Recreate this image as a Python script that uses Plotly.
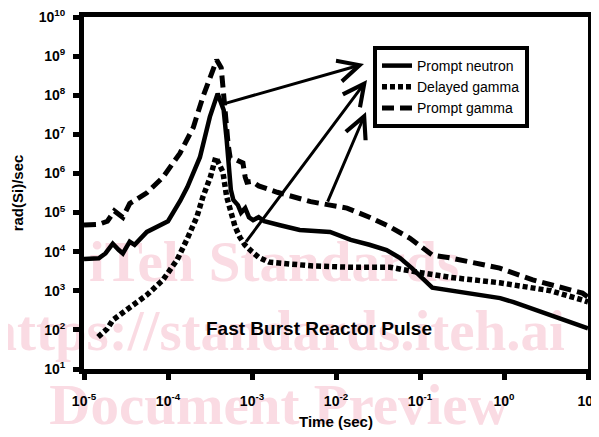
import plotly.graph_objects as go

# ---- data (time in s, dose rate in rad(Si)/s) ----
neutron_time = [1.0e-5, 1.5e-5, 1.8e-5, 2.2e-5, 2.6e-5, 2.9e-5, 3.5e-5, 4.0e-5, 5.6e-5,
                1.0e-4, 1.4e-4, 1.7e-4, 2.4e-4, 3.15e-4, 3.9e-4, 4.6e-4, 5.0e-4, 5.3e-4,
                5.6e-4, 6.0e-4, 6.8e-4, 7.4e-4, 8.3e-4, 9.2e-4, 1.03e-3, 1.2e-3, 1.4e-3,
                2.1e-3, 3.7e-3, 8.5e-3, 1.5e-2, 2.5e-2, 4.0e-2, 5.8e-2, 8.0e-2, 0.14,
                0.25, 0.5, 0.9, 1.3, 3.0, 6.0, 10.0]
neutron_rate = [6.5e3, 6.8e3, 9e3, 1.6e4, 1.1e4, 9e3, 1.8e4, 1.5e4, 3.2e4,
                6e4, 2e5, 4.5e5, 2.6e6, 2.8e7, 1.1e8, 4.2e7, 7e6, 1.2e6,
                3.8e5, 2.1e5, 1.55e5, 1e5, 1.3e5, 7.6e4, 6.4e4, 7.6e4, 6e4,
                4.8e4, 3.6e4, 3.2e4, 2e4, 1.5e4, 1.1e4, 6.9e3, 3.8e3, 1.2e3,
                1e3, 830, 650, 510, 270, 160, 110]

delayed_time = [1.47e-5, 1.88e-5, 2.2e-5, 3.5e-5, 5.6e-5, 8.7e-5, 1.28e-4, 1.67e-4,
                2.2e-4, 2.6e-4, 3.2e-4, 3.7e-4, 4.5e-4, 5.0e-4, 5.5e-4, 6.3e-4,
                7.2e-4, 8.2e-4, 1.0e-3, 1.2e-3, 1.6e-3, 2.1e-3, 3.1e-3, 5.3e-3,
                1.5e-2, 4.4e-2, 9.2e-2, 0.23, 0.89, 3.6, 8.6, 10.0]
delayed_rate = [66, 105, 178, 360, 780, 1.9e3, 6.1e3, 2e4,
                7.6e4, 2.5e5, 8.2e5, 2.6e6, 1.1e6, 2.5e5, 1.1e5, 4.3e4,
                2.3e4, 1.5e4, 1e4, 7.2e3, 5.4e3, 5.1e3, 4.6e3, 4.3e3,
                4e3, 4e3, 3e3, 2.2e3, 1.6e3, 1e3, 580, 520]

gamma_time = [1.0e-5, 1.5e-5, 1.9e-5, 2.3e-5, 2.9e-5, 3.5e-5, 5.6e-5, 8.7e-5, 1.39e-4,
              2.0e-4, 2.6e-4, 3.35e-4, 3.8e-4, 4.3e-4, 4.6e-4, 4.9e-4, 5.2e-4, 5.5e-4,
              6.6e-4, 7.8e-4, 8.3e-4, 8.7e-4, 1.0e-3, 1.2e-3, 2.0e-3, 3.0e-3, 5.0e-3,
              8.5e-3, 1.35e-2, 2.5e-2, 4.4e-2, 7.6e-2, 0.14, 0.23, 0.89, 2.2, 8.6, 10.0]
gamma_rate = [4.8e4, 5e4, 6e4, 1.1e5, 7.5e4, 1.7e5, 3.2e5, 8e5, 3.3e6,
              1.5e7, 9e7, 4.4e8, 8e8, 5e8, 1.35e8, 2.3e7, 5.4e6, 2.5e6,
              2.2e6, 1.85e6, 8e5, 6e5, 6.3e5, 4.8e5, 3.3e5, 2.5e5, 1.9e5,
              1.55e5, 1.3e5, 7.6e4, 4.3e4, 2.2e4, 8.2e3, 6.9e3, 3.8e3, 1.9e3, 870, 690]

series_names = ["Prompt neutron", "Delayed gamma", "Prompt gamma"]

x_tickvals = [1e-5, 1e-4, 1e-3, 1e-2, 1e-1, 1, 10]
x_ticktext = ["10<sup>-5</sup>", "10<sup>-4</sup>", "10<sup>-3</sup>", "10<sup>-2</sup>",
              "10<sup>-1</sup>", "10<sup>0</sup>", "10<sup>1</sup>"]
y_tickvals = [1e1, 1e2, 1e3, 1e4, 1e5, 1e6, 1e7, 1e8, 1e9, 1e10]
y_ticktext = ["10<sup>1</sup>", "10<sup>2</sup>", "10<sup>3</sup>", "10<sup>4</sup>",
              "10<sup>5</sup>", "10<sup>6</sup>", "10<sup>7</sup>", "10<sup>8</sup>",
              "10<sup>9</sup>", "10<sup>10</sup>"]

# arrows: (tail log10 t, tail log10 rate, head log10 t, head log10 rate)
arrows = [(-3.345, 7.775, -1.667, 8.80),
          (-3.083, 4.22, -1.631, 8.39),
          (-2.107, 5.243, -1.643, 7.57)]

watermarks = [("iTeh Standards", 0.377, 0.322),
              ("https://standards.iteh.ai", 0.379, 0.127),
              ("Document Preview", 0.387, -0.083)]

FONT = "Liberation Sans, Arial, sans-serif"

fig = go.Figure()
fig.add_trace(go.Scatter(x=neutron_time, y=neutron_rate, mode="lines", name=series_names[0],
                         line=dict(color="black", width=4.5)))
fig.add_trace(go.Scatter(x=delayed_time, y=delayed_rate, mode="lines", name=series_names[1],
                         line=dict(color="black", width=5.5, dash="5px,3px")))
fig.add_trace(go.Scatter(x=gamma_time, y=gamma_rate, mode="lines", name=series_names[2],
                         line=dict(color="black", width=5, dash="12px,6px")))

axis_common = dict(type="log", ticks="outside", ticklen=6, tickwidth=5, tickcolor="black",
                   showline=True, linewidth=5, linecolor="black", mirror=True,
                   showgrid=False, zeroline=False, automargin=False,
                   ticklabeloverflow="allow",
                   tickfont=dict(family=FONT, size=14, color="black", weight="bold"))

fig.update_xaxes(range=[-5, 1], tickvals=x_tickvals, ticktext=x_ticktext, ticklabelstandoff=9,
                 title=dict(text="Time (sec)", standoff=10,
                            font=dict(family=FONT, size=15, color="black", weight="bold")),
                 **axis_common)
fig.update_yaxes(range=[1, 10], tickvals=y_tickvals, ticktext=y_ticktext, ticklabelstandoff=5,
                 title=dict(text="rad(Si)/sec", standoff=13,
                            font=dict(family=FONT, size=15, color="black", weight="bold")),
                 **axis_common)

annotations = []
for (ax0, ay0, x1, y1) in arrows:
    annotations.append(dict(x=x1, y=y1, ax=ax0, ay=ay0, xref="x", yref="y", axref="x", ayref="y",
                            text="", showarrow=True, arrowhead=5, arrowsize=1.4, arrowwidth=3,
                            arrowcolor="black", standoff=0))
annotations.append(dict(x=0.466, y=0.114, xref="paper", yref="paper", showarrow=False,
                        xanchor="center", yanchor="middle",
                        text="Fast Burst Reactor Pulse",
                        font=dict(family=FONT, size=19, color="black", weight="bold")))

shapes = []
for (txt, cx, cy) in watermarks:
    shapes.append(dict(type="rect", xref="paper", yref="paper", x0=cx - 0.6, x1=cx + 0.6,
                       y0=cy - 0.06, y1=cy + 0.06, line=dict(width=0),
                       fillcolor="rgba(0,0,0,0)", layer="below",
                       label=dict(text=txt, textposition="middle center",
                                  font=dict(family="Liberation Serif, Times New Roman, serif",
                                            size=57, color="#fadbe3", weight="bold"))))

# the page body adds an 8px margin, so the figure is 8px smaller than the window
fig.update_layout(width=591, height=429, margin=dict(l=76, r=11, t=9, b=68, autoexpand=False),
                  paper_bgcolor="white", plot_bgcolor="white",
                  font=dict(family=FONT, color="black"),
                  showlegend=True,
                  legend=dict(x=0.5734, y=0.9176, xanchor="left", yanchor="top",
                              bordercolor="black", borderwidth=4, bgcolor="white",
                              font=dict(family=FONT, size=14, color="black")),
                  annotations=annotations, shapes=shapes)

fig.write_html("out.html")
